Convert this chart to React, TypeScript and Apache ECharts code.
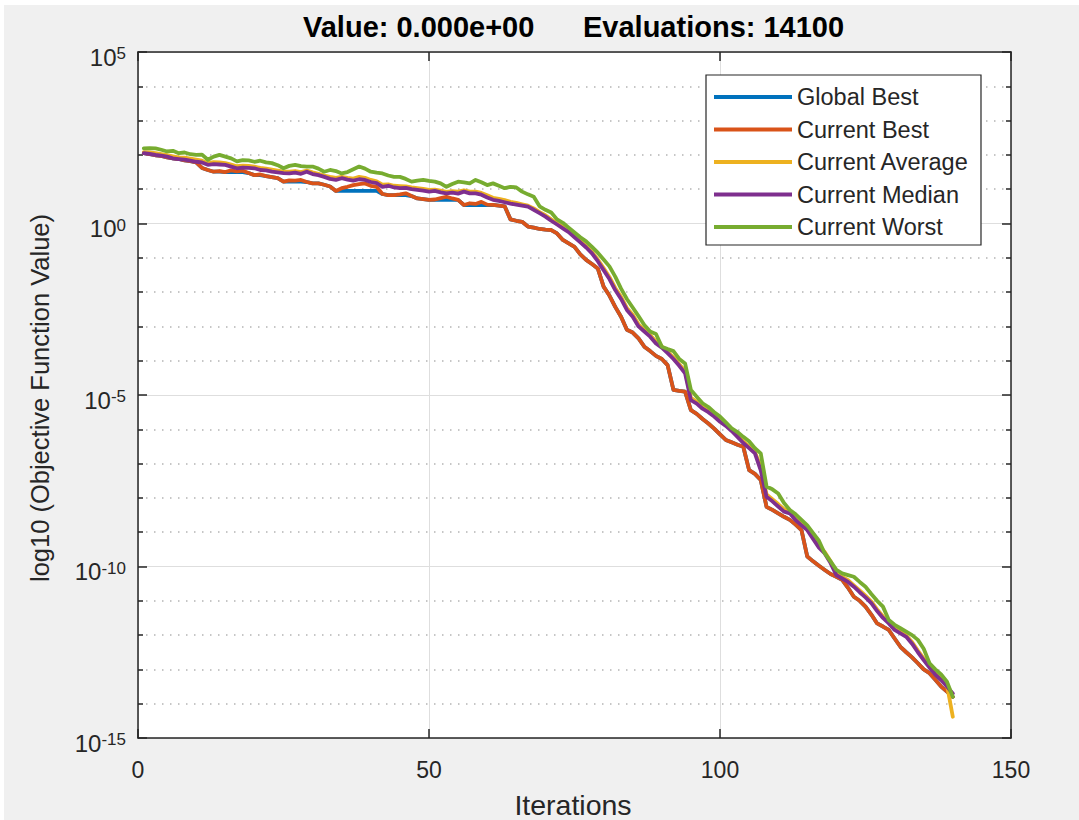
import React, { useEffect, useRef } from "react";
import * as echarts from "echarts";

// Iteration index (x axis)
const iterations: number[] = Array.from({ length: 140 }, (_, i) => i + 1);

// log10 of the objective function value per iteration
const globalBestLog: number[] = [
  2.05, 2.02, 1.99, 1.97, 1.93, 1.90, 1.88, 1.84, 1.82, 1.78,
  1.62, 1.56, 1.51, 1.51, 1.50, 1.50, 1.50, 1.50, 1.47, 1.41,
  1.41, 1.38, 1.35, 1.32, 1.22, 1.22, 1.22, 1.22, 1.21, 1.17,
  1.17, 1.13, 1.08, 0.95, 0.95, 0.95, 0.95, 0.95, 0.95, 0.95,
  0.95, 0.86, 0.83, 0.83, 0.83, 0.83, 0.80, 0.73, 0.71, 0.69,
  0.69, 0.69, 0.69, 0.69, 0.69, 0.54, 0.54, 0.54, 0.54, 0.54,
  0.54, 0.52, 0.50, 0.12, 0.08, 0.05, -0.09, -0.12, -0.16, -0.18,
  -0.19, -0.29, -0.48, -0.58, -0.68, -0.90, -1.06, -1.18, -1.31, -1.84,
  -2.10, -2.43, -2.72, -3.10, -3.18, -3.35, -3.59, -3.72, -3.86, -3.95,
  -4.13, -4.85, -4.88, -4.90, -5.44, -5.55, -5.70, -5.83, -5.98, -6.15,
  -6.31, -6.38, -6.45, -6.51, -7.19, -7.30, -7.48, -8.26, -8.35, -8.45,
  -8.55, -8.64, -8.78, -8.94, -9.71, -9.85, -9.98, -10.10, -10.22, -10.30,
  -10.39, -10.62, -10.88, -11.00, -11.17, -11.40, -11.66, -11.75, -11.85, -12.10,
  -12.34, -12.50, -12.65, -12.82, -13.00, -13.11, -13.30, -13.50, -13.65, -13.80,
];

const currentBestLog: number[] = [
  2.05, 2.02, 1.99, 1.97, 1.93, 1.90, 1.88, 1.84, 1.82, 1.78,
  1.62, 1.56, 1.51, 1.53, 1.50, 1.55, 1.52, 1.54, 1.47, 1.41,
  1.43, 1.38, 1.35, 1.32, 1.22, 1.26, 1.25, 1.27, 1.21, 1.17,
  1.17, 1.13, 1.08, 0.95, 1.03, 1.07, 1.12, 1.15, 1.17, 1.10,
  1.07, 0.86, 0.83, 0.83, 0.85, 0.88, 0.80, 0.73, 0.71, 0.69,
  0.70, 0.74, 0.78, 0.73, 0.69, 0.54, 0.59, 0.57, 0.63, 0.55,
  0.54, 0.52, 0.50, 0.12, 0.08, 0.05, -0.09, -0.12, -0.16, -0.18,
  -0.19, -0.29, -0.48, -0.58, -0.68, -0.90, -1.06, -1.18, -1.31, -1.84,
  -2.10, -2.43, -2.72, -3.10, -3.18, -3.35, -3.59, -3.72, -3.86, -3.95,
  -4.13, -4.85, -4.88, -4.90, -5.44, -5.55, -5.70, -5.83, -5.98, -6.15,
  -6.31, -6.38, -6.45, -6.51, -7.19, -7.30, -7.48, -8.26, -8.35, -8.45,
  -8.55, -8.64, -8.78, -8.94, -9.71, -9.85, -9.98, -10.10, -10.22, -10.30,
  -10.39, -10.62, -10.88, -11.00, -11.17, -11.40, -11.66, -11.75, -11.85, -12.10,
  -12.34, -12.50, -12.65, -12.82, -13.00, -13.11, -13.30, -13.50, -13.65, -13.80,
];

const currentAverageLog: number[] = [
  2.08, 2.07, 2.05, 2.02, 1.99, 1.96, 1.93, 1.92, 1.89, 1.86,
  1.83, 1.76, 1.79, 1.78, 1.76, 1.72, 1.67, 1.69, 1.68, 1.66,
  1.62, 1.60, 1.57, 1.54, 1.51, 1.51, 1.53, 1.50, 1.54, 1.49,
  1.45, 1.40, 1.36, 1.33, 1.36, 1.33, 1.31, 1.36, 1.33, 1.27,
  1.23, 1.13, 1.14, 1.10, 1.09, 1.08, 1.05, 1.03, 1.01, 0.98,
  0.99, 0.96, 0.92, 0.94, 0.93, 0.97, 0.93, 0.93, 0.89, 0.82,
  0.75, 0.72, 0.68, 0.63, 0.60, 0.56, 0.52, 0.44, 0.33, 0.24,
  0.12, 0.01, -0.10, -0.21, -0.36, -0.51, -0.66, -0.83, -1.05, -1.30,
  -1.56, -1.88, -2.14, -2.46, -2.66, -2.94, -3.10, -3.25, -3.44, -3.58,
  -3.74, -3.90, -4.10, -4.30, -5.08, -5.20, -5.35, -5.46, -5.60, -5.74,
  -5.86, -6.01, -6.18, -6.35, -6.50, -6.66, -7.10, -7.90, -8.04, -8.18,
  -8.33, -8.40, -8.60, -8.75, -8.90, -9.14, -9.40, -9.58, -9.85, -10.20,
  -10.30, -10.40, -10.55, -10.70, -10.85, -11.02, -11.25, -11.45, -11.62, -11.80,
  -11.91, -12.01, -12.20, -12.45, -12.68, -12.90, -13.10, -13.27, -13.46, -14.38,
];

const currentMedianLog: number[] = [
  2.05, 2.03, 2.00, 1.98, 1.95, 1.90, 1.88, 1.86, 1.83, 1.80,
  1.78, 1.71, 1.73, 1.72, 1.71, 1.66, 1.61, 1.63, 1.62, 1.61,
  1.56, 1.55, 1.51, 1.49, 1.47, 1.46, 1.48, 1.45, 1.51, 1.44,
  1.41, 1.36, 1.30, 1.27, 1.32, 1.28, 1.25, 1.29, 1.27, 1.21,
  1.18, 1.07, 1.10, 1.05, 1.03, 1.04, 1.00, 0.98, 0.96, 0.93,
  0.95, 0.91, 0.88, 0.90, 0.87, 0.93, 0.88, 0.88, 0.84, 0.76,
  0.69, 0.66, 0.62, 0.58, 0.55, 0.52, 0.49, 0.40, 0.30, 0.20,
  0.08, -0.03, -0.14, -0.25, -0.40, -0.55, -0.70, -0.87, -1.10, -1.36,
  -1.62, -1.94, -2.20, -2.52, -2.72, -3.00, -3.15, -3.30, -3.50, -3.62,
  -3.78, -3.95, -4.15, -4.37, -5.15, -5.25, -5.40, -5.50, -5.63, -5.78,
  -5.90, -6.05, -6.22, -6.40, -6.55, -6.70, -7.20, -7.97, -8.10, -8.25,
  -8.40, -8.45, -8.65, -8.80, -8.94, -9.20, -9.45, -9.62, -9.90, -10.25,
  -10.35, -10.45, -10.59, -10.75, -10.90, -11.07, -11.30, -11.50, -11.66, -11.85,
  -11.95, -12.05, -12.25, -12.50, -12.73, -12.95, -13.15, -13.31, -13.50, -13.70,
];

const currentWorstLog: number[] = [
  2.19, 2.20, 2.19, 2.15, 2.10, 2.12, 2.05, 2.07, 2.02, 2.00,
  2.01, 1.86, 1.95, 2.00, 1.95, 1.90, 1.81, 1.85, 1.84, 1.80,
  1.83, 1.78, 1.76, 1.70, 1.61, 1.68, 1.71, 1.67, 1.66, 1.66,
  1.60, 1.51, 1.56, 1.53, 1.46, 1.50, 1.58, 1.66, 1.60, 1.51,
  1.48, 1.46, 1.40, 1.36, 1.36, 1.30, 1.22, 1.25, 1.27, 1.24,
  1.22, 1.17, 1.07, 1.15, 1.22, 1.20, 1.17, 1.27, 1.20, 1.12,
  1.17, 1.10, 1.03, 1.07, 1.05, 0.93, 0.85, 0.78, 0.50, 0.40,
  0.32, 0.12, 0.02, -0.12, -0.26, -0.40, -0.52, -0.68, -0.85, -1.05,
  -1.25, -1.55, -1.90, -2.20, -2.45, -2.70, -2.96, -3.15, -3.22, -3.59,
  -3.66, -3.72, -3.95, -4.08, -4.85, -5.05, -5.24, -5.35, -5.50, -5.63,
  -5.80, -5.97, -6.08, -6.22, -6.35, -6.55, -6.70, -7.67, -7.75, -7.87,
  -8.15, -8.35, -8.48, -8.64, -8.80, -9.03, -9.25, -9.62, -9.85, -10.10,
  -10.20, -10.25, -10.30, -10.45, -10.59, -10.80, -11.00, -11.17, -11.56, -11.70,
  -11.80, -11.90, -12.00, -12.14, -12.40, -12.82, -13.00, -13.15, -13.36, -13.80,
];

const seriesNames = ["Global Best", "Current Best", "Current Average", "Current Median", "Current Worst"];
const seriesColors = ["#0072BD", "#D95319", "#EDB120", "#7E2F8E", "#77AC30"];
const seriesValues = [globalBestLog, currentBestLog, currentAverageLog, currentMedianLog, currentWorstLog];

const xTicks = { min: 0, max: 150, step: 50 };
const yExponents = { min: -15, max: 5, step: 5 };

const titleLeft = "Value: 0.000e+00";
const titleRight = "Evaluations: 14100";
const xName = "Iterations";
const yName = "log10 (Objective Function Value)";

const FONT = "'Liberation Sans', Arial, Helvetica, sans-serif";
const INK = "#262626";

export default function App() {
  const ref = useRef<HTMLDivElement>(null);

  useEffect(() => {
    if (!ref.current) return;
    const chart = echarts.init(ref.current, undefined, { renderer: "svg" });

    const frameLine = { color: INK, width: 1.5 };

    const option: any = {
      animation: false,
      backgroundColor: "#f0f0f0",
      textStyle: { fontFamily: FONT },
      grid: {
        left: 134,
        top: 47,
        width: 873,
        height: 686,
        show: true,
        backgroundColor: "#ffffff",
        borderWidth: 0,
      },
      graphic: [
        {
          type: "text",
          x: 299,
          y: 22,
          style: { text: titleLeft, font: `bold 29px ${FONT}`, fill: "#000", align: "left", verticalAlign: "middle" },
        },
        {
          type: "text",
          x: 579,
          y: 22,
          style: { text: titleRight, font: `bold 29px ${FONT}`, fill: "#000", align: "left", verticalAlign: "middle" },
        },
        {
          type: "text",
          x: 569,
          y: 800,
          style: { text: xName, font: `28.5px ${FONT}`, fill: INK, align: "center", verticalAlign: "middle" },
        },
        {
          type: "text",
          x: 36,
          y: 393,
          rotation: Math.PI / 2,
          style: { text: yName, font: `25.5px ${FONT}`, fill: INK, align: "center", verticalAlign: "middle" },
        },
      ],
      legend: {
        orient: "vertical",
        left: 702,
        top: 70,
        icon: "rect",
        itemWidth: 78,
        itemHeight: 4,
        itemGap: 8.5,
        padding: [10, 12, 6, 8],
        backgroundColor: "#ffffff",
        borderColor: INK,
        borderWidth: 1.2,
        borderRadius: 0,
        textStyle: { fontSize: 23.5, color: INK, fontFamily: FONT },
        data: seriesNames,
      },
      xAxis: [
        {
          type: "value",
          position: "bottom",
          min: xTicks.min,
          max: xTicks.max,
          interval: xTicks.step,
          axisLine: { show: true, onZero: false, lineStyle: frameLine },
          axisTick: { show: true, inside: true, length: 9, lineStyle: frameLine },
          axisLabel: { fontSize: 23, color: INK, margin: 20, fontFamily: FONT },
          splitLine: { show: true, lineStyle: { color: "#dedede", width: 1 } },
        },
        {
          type: "value",
          position: "top",
          min: xTicks.min,
          max: xTicks.max,
          interval: xTicks.step,
          axisLine: { show: true, onZero: false, lineStyle: frameLine },
          axisTick: { show: true, inside: true, length: 9, lineStyle: frameLine },
          axisLabel: { show: false },
          splitLine: { show: false },
        },
      ],
      yAxis: [
        {
          type: "value",
          position: "left",
          min: yExponents.min,
          max: yExponents.max,
          interval: yExponents.step,
          axisLine: { show: true, onZero: false, lineStyle: frameLine },
          axisTick: { show: true, inside: true, length: 9, lineStyle: frameLine },
          minorTick: { show: true, splitNumber: 5, length: 5, lineStyle: frameLine },
          axisLabel: {
            margin: 12,
            fontSize: 24,
            color: INK,
            fontFamily: FONT,
            padding: [10, 0, 0, 0],
            formatter: (v: number) => `{b|10}{s|${v}}`,
            rich: {
              b: { fontSize: 24, lineHeight: 24, color: INK, fontFamily: FONT, verticalAlign: "bottom" },
              s: { fontSize: 17, lineHeight: 17, color: INK, fontFamily: FONT, verticalAlign: "top", padding: [0, 0, 22, 0] },
            },
          },
          splitLine: { show: true, lineStyle: { color: "#dedede", width: 1 } },
          minorSplitLine: { show: true, lineStyle: { color: "#b4b4b4", width: 1.5, type: [1.5, 6.5] } },
        },
        {
          type: "value",
          position: "right",
          min: yExponents.min,
          max: yExponents.max,
          interval: yExponents.step,
          axisLine: { show: true, onZero: false, lineStyle: frameLine },
          axisTick: { show: true, inside: true, length: 9, lineStyle: frameLine },
          minorTick: { show: true, splitNumber: 5, length: 5, lineStyle: frameLine },
          axisLabel: { show: false },
          splitLine: { show: false },
        },
      ],
      series: seriesNames.map((name, k) => ({
        name,
        type: "line",
        xAxisIndex: 0,
        yAxisIndex: 0,
        symbol: "none",
        showSymbol: false,
        color: seriesColors[k],
        lineStyle: { width: 3.8, color: seriesColors[k], join: "round", cap: "round" },
        data: iterations.map((it, i) => [it, seriesValues[k][i]]),
      })),
    };

    chart.setOption(option);
    return () => chart.dispose();
  }, []);

  return (
    <div
      ref={ref}
      style={{ position: "fixed", left: 4, top: 5, width: 1075, height: 815, background: "#f0f0f0" }}
    />
  );
}
